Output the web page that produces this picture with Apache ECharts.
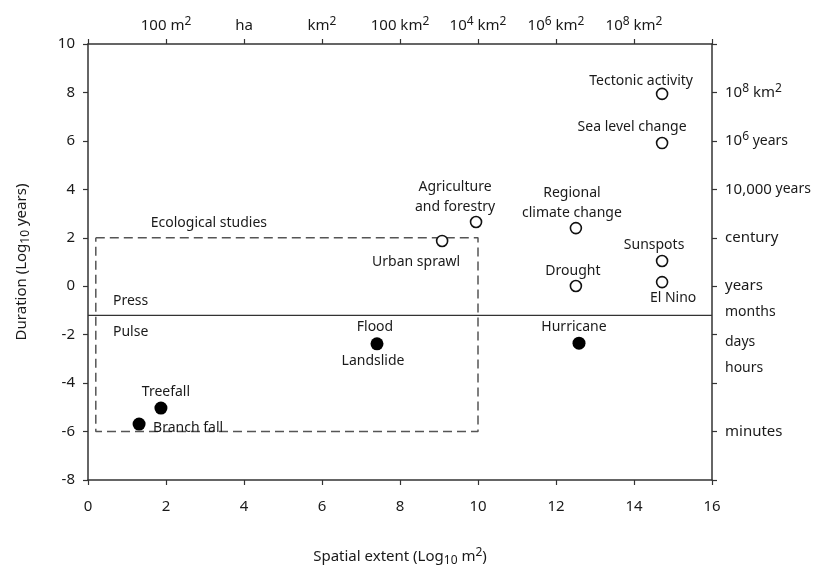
<!DOCTYPE html>
<html>
<head>
<meta charset="utf-8">
<script src="https://cdn.jsdelivr.net/npm/echarts@6/dist/echarts.min.js"></script>
<style>html,body{margin:0;padding:0;background:#fff}#chart{width:824px;height:570px}</style>
</head>
<body>
<div id="chart"></div>
<script>
// ---- data ----
const openNames = ['Tectonic activity','Sea level change','Agriculture\nand forestry','Regional\nclimate change','Urban sprawl','Sunspots','Drought','El Nino'];
const openX = [14.72, 14.72, 9.95, 12.51, 9.08, 14.72, 12.51, 14.72];
const openY = [7.94, 5.91, 2.65, 2.4, 1.87, 1.04, 0.01, 0.17];

const filledNames = ['Hurricane','Flood','Treefall','Branch fall'];
const filledX = [12.59, 7.41, 1.87, 1.31];
const filledY = [-2.35, -2.38, -5.03, -5.69];

const noteNames = ['Landslide','Ecological studies','Press','Pulse','months','days','hours'];
const noteX = [7.41, 3.1, 0.64, 0.64, 16, 16, 16];
const noteY = [-2.38, 2.6, -0.61, -1.89, -1.07, -2.3, -3.38];

const studyBoxX = [0.2, 10, 10, 0.2, 0.2];
const studyBoxY = [2, 2, -6, -6, 2];
const pressPulseX = [0, 16];
const pressPulseY = [-1.2, -1.2];

const xTicks = [0,2,4,6,8,10,12,14,16];
const topTickLabels = ['', '100 m²', 'ha', 'km²', '100 km²', '10⁴ km²', '10⁶ km²', '10⁸ km²', ''];
const yTicks = [-8,-6,-4,-2,0,2,4,6,8,10];
const rightTickLabels = ['', 'minutes', '', '', 'years', 'century', '10,000 years', '10⁶ years', '10⁸ km²', ''];

// ---- styles ----
const FONT = 'Noto Sans';
const TXT = '#1a1a1a';
const AX = '#333';
const FS = 14;
const labelPos = {
  'Tectonic activity': [-21,-13],
  'Sea level change': [-30,-16],
  'Agriculture\nand forestry': [-21,-25],
  'Regional\nclimate change': [-4,-25],
  'Urban sprawl': [-26,21],
  'Sunspots': [-8,-16],
  'Drought': [-3,-15],
  'El Nino': [11,16],
  'Hurricane': [-5,-16],
  'Flood': [-2,-17],
  'Treefall': [5,-16],
  'Branch fall': [14,4],
  'Landslide': [-4,17],
  'Ecological studies': [0,0]
};
const leftAlignedLabels = ['Branch fall', 'Press', 'Pulse'];

function toRich(s){
  const supMap = {'²':'2','⁴':'4','⁶':'6','⁸':'8'};
  let out = '', buf = '';
  for (const ch of s){
    if (supMap[ch]) {
      if (buf) { out += '{n|' + buf + '}'; buf=''; }
      out += '{sup|' + supMap[ch] + '}';
    } else buf += ch;
  }
  if (buf) out += '{n|' + buf + '}';
  return out;
}
function toRichRight(s){
  if (s === '10⁶ years') return '{n|10}{sup|6}{sm| years}';
  if (s === '10,000 years') return '{n|10,000}{sm| years}';
  return toRich(s);
}
const rich = {
  n: {fontFamily: FONT, fontSize: 15, color: TXT, lineHeight: 20},
  sm: {fontFamily: FONT, fontSize: 14, color: TXT, lineHeight: 20},
  sup: {fontFamily: FONT, fontSize: 12, color: TXT, verticalAlign: 'top', lineHeight: 12},
  sub: {fontFamily: FONT, fontSize: 12, color: TXT, verticalAlign: 'bottom', lineHeight: 12}
};

function axisBase(){
  return {
    type: 'value',
    splitLine: {show: false},
    axisLine: {show: true, onZero: false, lineStyle: {color: AX, width: 1.5}},
    axisTick: {show: true, inside: false, length: 5, lineStyle: {color: AX, width: 1.2}},
  };
}

const chart = echarts.init(document.getElementById('chart'), null, {renderer: 'canvas'});

const option = {
  backgroundColor: '#fff',
  animation: false,
  grid: {left: 88, right: 112, top: 44, bottom: 90, containLabel: false, outerBoundsMode: 'none'},
  xAxis: [
    Object.assign(axisBase(), {
      position: 'bottom', min: 0, max: 16, interval: 2,
      axisLabel: {fontFamily: FONT, fontSize: 15, color: TXT, margin: 19},
      name: '{n|Spatial extent (Log}{sub|10}{n| m}{sup|2}{n|)}',
      nameLocation: 'middle', nameGap: 67,
      nameTextStyle: {rich: rich}
    }),
    Object.assign(axisBase(), {
      position: 'top', min: 0, max: 16, interval: 2,
      axisLabel: {margin: 8, formatter: v => toRich(topTickLabels[xTicks.indexOf(v)] || ''), rich: rich}
    })
  ],
  yAxis: [
    Object.assign(axisBase(), {
      position: 'left', min: -8, max: 10, interval: 2,
      axisLabel: {fontFamily: FONT, fontSize: 15, color: TXT, margin: 13},
      name: '{n|Duration (Log}{sub|10}{n| years)}',
      nameLocation: 'middle', nameGap: 56, nameRotate: 90,
      nameTextStyle: {rich: rich}
    }),
    Object.assign(axisBase(), {
      position: 'right', min: -8, max: 10, interval: 2,
      axisLabel: {margin: 13, formatter: v => toRichRight(rightTickLabels[yTicks.indexOf(v)] || ''), rich: rich}
    })
  ],
  series: [
    {
      type: 'line', data: studyBoxX.map((x,i)=>[x, studyBoxY[i]]),
      symbol: 'none', silent: true, z: 1,
      lineStyle: {color: '#555', width: 1.5, type: [9,5]}
    },
    {
      type: 'line', data: pressPulseX.map((x,i)=>[x, pressPulseY[i]]),
      symbol: 'none', silent: true, z: 1,
      lineStyle: {color: '#333', width: 1.3}
    },
    {
      type: 'scatter', z: 3,
      symbol: 'circle', symbolSize: 11,
      itemStyle: {color: '#fff', borderColor: '#111', borderWidth: 1.6, opacity: 1},
      data: openNames.map((n,i)=>({name: n, value: [openX[i], openY[i]],
        label: {show: true, position: 'inside', offset: labelPos[n], formatter: '{b}',
          fontFamily: FONT, fontSize: FS, color: TXT, lineHeight: 20, align: 'center', verticalAlign: 'middle'}}))
    },
    {
      type: 'scatter', z: 3,
      symbol: 'circle', symbolSize: 13,
      itemStyle: {color: '#000', opacity: 1},
      data: filledNames.map((n,i)=>({name: n, value: [filledX[i], filledY[i]],
        label: {show: true, position: 'inside', offset: labelPos[n], formatter: '{b}',
          fontFamily: FONT, fontSize: FS, color: TXT,
          align: leftAlignedLabels.includes(n) ? 'left' : 'center', verticalAlign: 'middle'}}))
    },
    {
      type: 'scatter', z: 4, silent: true,
      symbolSize: 0, clip: false,
      itemStyle: {opacity: 1},
      data: noteNames.map((n,i)=>{
        const right = noteX[i] === 16;
        return {name: n, value: [noteX[i], noteY[i]],
          label: {show: true, position: 'inside', formatter: '{b}',
            offset: right ? [13,0] : (labelPos[n] || [0,0]),
            align: (right || leftAlignedLabels.includes(n)) ? 'left' : 'center', verticalAlign: 'middle',
            fontFamily: FONT, fontSize: FS, color: TXT}};
      })
    }
  ]
};
chart.setOption(option);
</script>
</body>
</html>
